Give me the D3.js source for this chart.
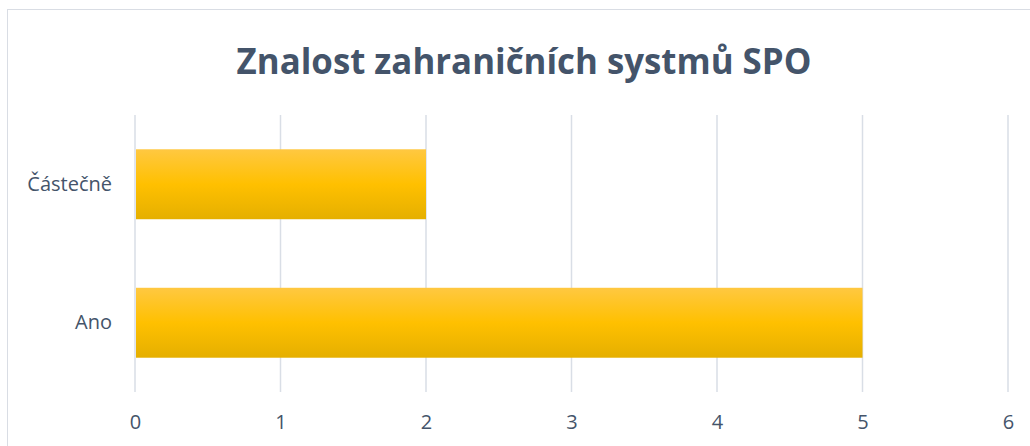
<!DOCTYPE html>
<html><head><meta charset="utf-8">
<script src="https://cdn.jsdelivr.net/npm/d3@7"></script>
<style>body{margin:0;background:#fff}svg{display:block}</style>
</head><body>
<script>
const title = "Znalost zahraničních systmů SPO";
const categories = ["Částečně", "Ano"];
const values = [2, 5];
const xTicks = [0, 1, 2, 3, 4, 5, 6];

const W = 1030, H = 446;
const svg = d3.select("body").append("svg").attr("width", W).attr("height", H);
const defs = svg.append("defs");
const grad = defs.append("linearGradient").attr("id", "bg").attr("x1", 0).attr("y1", 0).attr("x2", 0).attr("y2", 1);
grad.append("stop").attr("offset", "0%").attr("stop-color", "#FFC841");
grad.append("stop").attr("offset", "50%").attr("stop-color", "#FFC000");
grad.append("stop").attr("offset", "100%").attr("stop-color", "#E5AF00");

// frame
svg.append("rect").attr("x", 7.5).attr("y", 9.5).attr("width", 1040).attr("height", 460)
  .attr("fill", "#fff").attr("stroke", "#D9DDE4").attr("stroke-width", 1);

const pLeft = 135, pRight = 1008, pTop = 115, pBottom = 392;
const x = d3.scaleLinear().domain([0, 6]).range([pLeft, pRight]);
const y = d3.scaleBand().domain(categories).range([pTop, pBottom]).paddingInner(0.495).paddingOuter(0.2475);

// gridlines
svg.append("g").selectAll("line").data(xTicks).join("line")
  .attr("x1", d => x(d)).attr("x2", d => x(d)).attr("y1", pTop).attr("y2", pBottom)
  .attr("stroke", "#D9DEE6").attr("stroke-width", 1.5);

// bars
svg.append("g").selectAll("rect").data(categories).join("rect")
  .attr("x", x(0) + 1).attr("y", d => y(d))
  .attr("width", (d, i) => x(values[i]) - x(0) - 1).attr("height", y.bandwidth())
  .attr("fill", "url(#bg)");

const font = "'Open Sans', sans-serif";
const col = "#44546A";

// x axis
const xa = svg.append("g").attr("transform", `translate(0,${pBottom})`)
  .call(d3.axisBottom(x).tickValues(xTicks).tickFormat(d3.format("d")).tickSize(0).tickPadding(23));
xa.select(".domain").remove();
xa.selectAll("text").attr("font-family", font).attr("font-size", 20).attr("fill", col);

// y axis
const ya = svg.append("g").attr("transform", `translate(${pLeft},0)`)
  .call(d3.axisLeft(y).tickSize(0).tickPadding(23));
ya.select(".domain").remove();
ya.selectAll("text").attr("font-family", font).attr("font-size", 20).attr("fill", col);

// title
const t = svg.append("text").attr("x", 524).attr("y", 74).attr("text-anchor", "middle")
  .attr("font-family", font).attr("font-weight", "bold").attr("font-size", 36)
  .attr("fill", col).text(title);
const tw = t.node().getComputedTextLength();
t.attr("font-size", 36 * 575 / tw);
</script>
</body></html>
